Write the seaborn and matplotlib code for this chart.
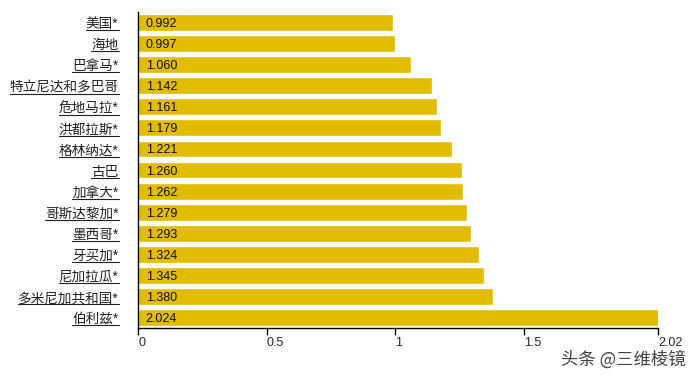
import matplotlib
matplotlib.use("Agg")
import matplotlib.pyplot as plt
import seaborn as sns
import pandas as pd
from matplotlib.lines import Line2D

# Data
countries = ["美国*", "海地", "巴拿马*", "特立尼达和多巴哥", "危地马拉*", "洪都拉斯*",
             "格林纳达*", "古巴", "加拿大*", "哥斯达黎加*", "墨西哥*", "牙买加*",
             "尼加拉瓜*", "多米尼加共和国*", "伯利兹*"]
values = [0.992, 0.997, 1.060, 1.142, 1.161, 1.179, 1.221, 1.260, 1.262,
          1.279, 1.293, 1.324, 1.345, 1.380, 2.024]
xtick_vals = [0, 0.5, 1, 1.5, 2.02]
xtick_labels = ["0", "0.5", "1", "1.5", "2.02"]

bar_color = "#E2BC00"

sns.set_style("white")
plt.rcParams['font.family'] = ['Liberation Sans', 'Noto Sans CJK SC', 'DejaVu Sans']

df = pd.DataFrame({"country": countries, "value": values})

fig = plt.figure(figsize=(6.97, 3.75), dpi=100)
ax = fig.add_axes([0.198, 0.125, 0.746, 0.843])

sns.barplot(data=df, x="value", y="country", orient="h", color=bar_color,
            saturation=1, width=0.8, ax=ax)

ax.set_xlim(0, 2.02)
ax.set_xticks(xtick_vals)
ax.set_xticklabels(xtick_labels, fontsize=9, ha="left")
ax.set_xlabel("")
ax.set_ylabel("")
ax.tick_params(axis="x", direction="out", length=5, width=1, color="black", pad=1.5, bottom=True)
ax.tick_params(axis="y", length=0, pad=14, labelsize=9.8)
for lbl in ax.get_yticklabels():
    lbl.set_color("#222222")

for s in ["top", "right"]:
    ax.spines[s].set_visible(False)
for s in ["left", "bottom"]:
    ax.spines[s].set_color("black")
    ax.spines[s].set_linewidth(1)

# value labels inside bars
for i, v in enumerate(values):
    ax.text(0.03, i, f"{v:.3f}", va="center_baseline", ha="left", fontsize=9, color="#111111")

# watermark
fig.text(0.983, 0.066, "头条 @三维棱镜", ha="right", va="top", fontsize=12.5,
         color="#444444", family=['Noto Sans CJK SC', 'DejaVu Sans'])

# underline the category labels
fig.canvas.draw()
renderer = fig.canvas.get_renderer()
inv = fig.transFigure.inverted()
for lbl in ax.get_yticklabels():
    bb = lbl.get_window_extent(renderer)
    (x0, y0), (x1, y1) = inv.transform([(bb.x0, bb.y0), (bb.x1, bb.y0)])
    fig.add_artist(Line2D([x0, x1], [y0 + 0.002, y0 + 0.002], transform=fig.transFigure,
                          color="#222222", linewidth=0.8))

fig.savefig("out.png", dpi=100)
